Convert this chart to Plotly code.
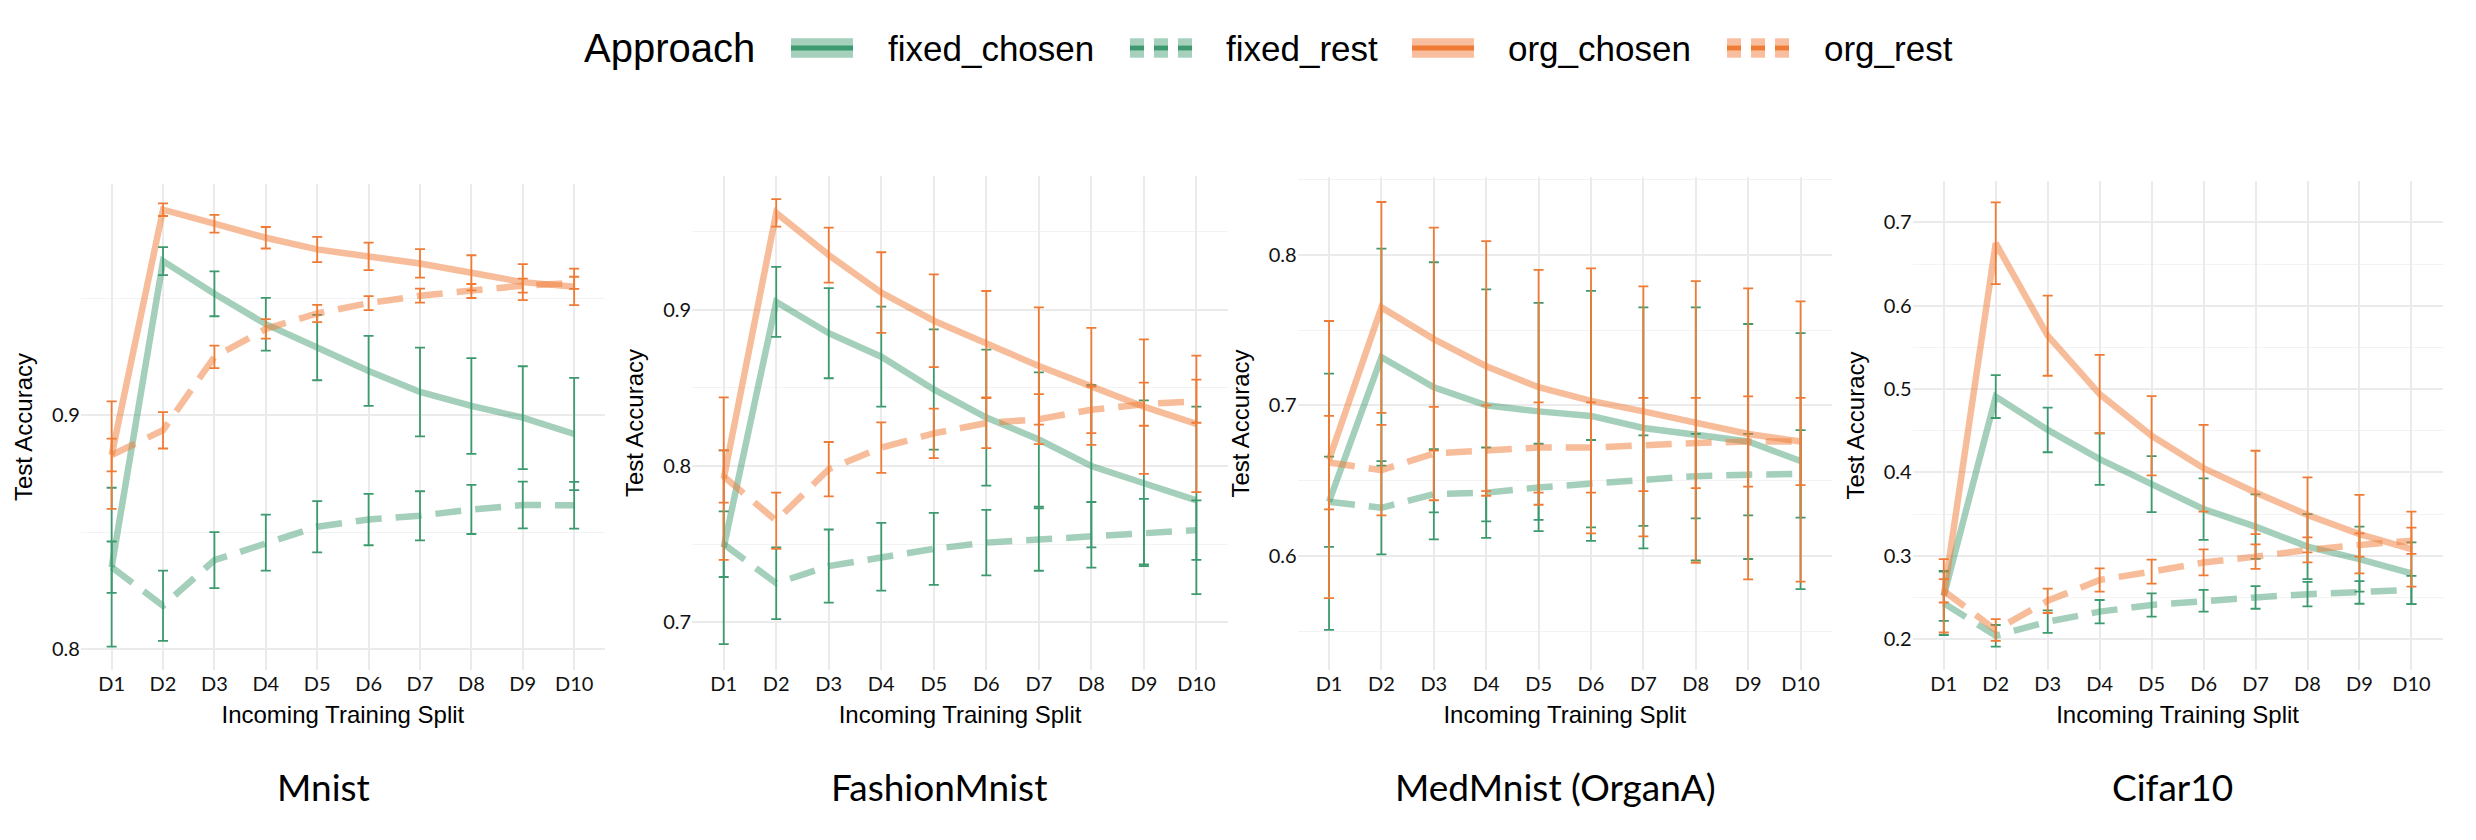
import plotly.graph_objects as go

W, H = 2476, 840

splits = ["D1", "D2", "D3", "D4", "D5", "D6", "D7", "D8", "D9", "D10"]
series_names = ["fixed_chosen", "fixed_rest", "org_chosen", "org_rest"]
panel_titles = ["Mnist", "FashionMnist", "MedMnist (OrganA)", "Cifar10"]

# ---- Mnist ----
mnist_fixed_chosen = [0.835, 0.966, 0.952, 0.939, 0.929, 0.919, 0.910, 0.904, 0.899, 0.892]
mnist_fixed_chosen_err = [0.034, 0.006, 0.0096, 0.0113, 0.014, 0.015, 0.019, 0.0205, 0.022, 0.024]
mnist_fixed_rest = [0.835, 0.8185, 0.838, 0.8455, 0.8523, 0.8554, 0.857, 0.8597, 0.8616, 0.8615]
mnist_fixed_rest_err = [0.011, 0.015, 0.012, 0.012, 0.011, 0.011, 0.0105, 0.0105, 0.010, 0.010]
mnist_org_chosen = [0.883, 0.988, 0.982, 0.976, 0.971, 0.968, 0.965, 0.961, 0.957, 0.955]
mnist_org_chosen_err = [0.023, 0.0027, 0.0038, 0.0046, 0.0054, 0.0059, 0.0061, 0.0075, 0.0077, 0.0078]
mnist_org_rest = [0.883, 0.8936, 0.925, 0.937, 0.9436, 0.948, 0.9512, 0.9532, 0.9555, 0.9567]
mnist_org_rest_err = [0.007, 0.0078, 0.0048, 0.0042, 0.0037, 0.003, 0.003, 0.003, 0.003, 0.0026]

# ---- FashionMnist ----
fm_fixed_chosen = [0.748, 0.905, 0.885, 0.870, 0.849, 0.831, 0.817, 0.800, 0.789, 0.778]
fm_fixed_chosen_err = [0.062, 0.0224, 0.0288, 0.032, 0.0385, 0.0435, 0.043, 0.052, 0.053, 0.060]
fm_fixed_rest = [0.750, 0.725, 0.736, 0.742, 0.747, 0.751, 0.753, 0.756, 0.758, 0.759]
fm_fixed_rest_err = [0.021, 0.023, 0.0234, 0.0217, 0.023, 0.021, 0.020, 0.021, 0.021, 0.019]
fm_org_chosen = [0.792, 0.962, 0.935, 0.911, 0.893, 0.878, 0.864, 0.851, 0.838, 0.827]
fm_org_chosen_err = [0.052, 0.0088, 0.0176, 0.0258, 0.0297, 0.034, 0.0375, 0.0374, 0.043, 0.0437]
fm_org_rest = [0.7933, 0.765, 0.798, 0.8118, 0.8209, 0.8275, 0.830, 0.836, 0.8396, 0.8415]
fm_org_rest_err = [0.0167, 0.018, 0.0174, 0.0162, 0.0158, 0.016, 0.016, 0.0149, 0.0138, 0.0138]

# ---- MedMnist (OrganA) ----
med_fixed_chosen = [0.636, 0.732, 0.712, 0.700, 0.696, 0.693, 0.685, 0.681, 0.676, 0.663]
med_fixed_chosen_err = [0.085, 0.072, 0.083, 0.077, 0.072, 0.083, 0.080, 0.084, 0.078, 0.085]
med_fixed_rest = [0.636, 0.632, 0.641, 0.642, 0.6455, 0.648, 0.650, 0.653, 0.654, 0.6545]
med_fixed_rest_err = [0.030, 0.031, 0.030, 0.030, 0.029, 0.029, 0.030, 0.028, 0.027, 0.029]
med_org_chosen = [0.664, 0.765, 0.744, 0.726, 0.712, 0.703, 0.696, 0.689, 0.681, 0.676]
med_org_chosen_err = [0.092, 0.070, 0.074, 0.083, 0.078, 0.088, 0.083, 0.0935, 0.0966, 0.093]
med_org_rest = [0.662, 0.657, 0.668, 0.670, 0.672, 0.672, 0.674, 0.675, 0.676, 0.676]
med_org_rest_err = [0.031, 0.030, 0.031, 0.030, 0.030, 0.030, 0.031, 0.030, 0.030, 0.029]

# ---- Cifar10 ----
cifar_fixed_chosen = [0.252, 0.491, 0.451, 0.416, 0.386, 0.356, 0.335, 0.311, 0.296, 0.279]
cifar_fixed_chosen_err = [0.030, 0.0257, 0.0268, 0.031, 0.0336, 0.0368, 0.0386, 0.039, 0.039, 0.037]
cifar_fixed_rest = [0.243, 0.204, 0.221, 0.233, 0.241, 0.246, 0.250, 0.254, 0.256, 0.259]
cifar_fixed_rest_err = [0.038, 0.013, 0.0135, 0.014, 0.014, 0.013, 0.0135, 0.0146, 0.0135, 0.017]
cifar_org_chosen = [0.252, 0.675, 0.564, 0.494, 0.444, 0.405, 0.376, 0.349, 0.326, 0.308]
cifar_org_chosen_err = [0.044, 0.049, 0.048, 0.047, 0.0475, 0.052, 0.050, 0.045, 0.047, 0.045]
cifar_org_rest = [0.258, 0.211, 0.246, 0.271, 0.281, 0.292, 0.299, 0.307, 0.313, 0.318]
cifar_org_rest_err = [0.014, 0.013, 0.0146, 0.014, 0.0144, 0.0156, 0.0146, 0.015, 0.014, 0.0157]

panel_data = [
    [(mnist_fixed_chosen, mnist_fixed_chosen_err), (mnist_fixed_rest, mnist_fixed_rest_err),
     (mnist_org_chosen, mnist_org_chosen_err), (mnist_org_rest, mnist_org_rest_err)],
    [(fm_fixed_chosen, fm_fixed_chosen_err), (fm_fixed_rest, fm_fixed_rest_err),
     (fm_org_chosen, fm_org_chosen_err), (fm_org_rest, fm_org_rest_err)],
    [(med_fixed_chosen, med_fixed_chosen_err), (med_fixed_rest, med_fixed_rest_err),
     (med_org_chosen, med_org_chosen_err), (med_org_rest, med_org_rest_err)],
    [(cifar_fixed_chosen, cifar_fixed_chosen_err), (cifar_fixed_rest, cifar_fixed_rest_err),
     (cifar_org_chosen, cifar_org_chosen_err), (cifar_org_rest, cifar_org_rest_err)],
]

y_ranges = [[0.791, 0.999], [0.6695, 0.9856], [0.5243, 0.8516], [0.163, 0.7496]]

# layout geometry in pixels
x_dom_px = [(72.8, 597.0), (684.2, 1219.9), (1289.6, 1824.0), (1904.6, 2434.6)]
y_top_px = [176, 168, 169, 173]
y_bot_px = 662
title_x_px = [315, 931, 1547, 2164]
title_y_px = 778

GREEN = "#3d9a6f"
ORANGE = "#ef7b35"
GREEN_LINE = "rgba(61,154,111,0.47)"
ORANGE_LINE = "rgba(239,123,53,0.5)"
GREEN_BAND = "#a5d0bc"
ORANGE_BAND = "#f8be9d"

styles = {
    "fixed_chosen": dict(line=GREEN_LINE, err=GREEN, dash="solid", band=GREEN_BAND),
    "fixed_rest": dict(line=GREEN_LINE, err=GREEN, dash="26px,14px", band=GREEN_BAND),
    "org_chosen": dict(line=ORANGE_LINE, err=ORANGE, dash="solid", band=ORANGE_BAND),
    "org_rest": dict(line=ORANGE_LINE, err=ORANGE, dash="26px,14px", band=ORANGE_BAND),
}

TICK_FONT = dict(family="Lato, Carlito, sans-serif", size=20, color="#111111")
AXT_FONT = dict(family="Liberation Sans, Arial, sans-serif", size=24, color="#000000")

fig = go.Figure()
for p, pdata in enumerate(panel_data):
    k = "" if p == 0 else str(p + 1)
    for name, (vals, errs) in zip(series_names, pdata):
        st = styles[name]
        fig.add_trace(go.Scatter(
            x=splits, y=vals, mode="lines", name=name, showlegend=False,
            xaxis="x" + k, yaxis="y" + k,
            line=dict(color=st["line"], width=6.5, dash=st["dash"]),
            error_y=dict(type="data", array=errs, visible=True, color=st["err"],
                         thickness=1.8, width=5),
        ))

layout = dict(
    width=W, height=H,
    margin=dict(l=0, r=0, t=0, b=0),
    paper_bgcolor="white", plot_bgcolor="white",
    showlegend=False,
)
for p in range(4):
    k = "" if p == 0 else str(p + 1)
    x0, x1 = x_dom_px[p]
    layout["xaxis" + k] = dict(
        domain=[x0 / W, x1 / W], anchor="y" + k, type="category",
        categoryorder="array", categoryarray=splits,
        range=[-0.6, 9.6], showgrid=True, gridcolor="#ebebeb", gridwidth=1.6,
        zeroline=False, showline=False, ticks="", tickfont=TICK_FONT,
        title=dict(text="Incoming Training Split", font=AXT_FONT, standoff=12),
    )
    layout["yaxis" + k] = dict(
        domain=[1 - y_bot_px / H, 1 - y_top_px[p] / H], anchor="x" + k,
        range=y_ranges[p], tick0=0, dtick=0.1, tickformat=".1f",
        showgrid=True, gridcolor="#ebebeb", gridwidth=1.6,
        minor=dict(tick0=0, dtick=0.05, showgrid=True, gridcolor="#f3f3f3", gridwidth=1.3),
        zeroline=False, showline=False, ticks="", tickfont=TICK_FONT,
        title=dict(text="Test Accuracy", font=AXT_FONT, standoff=12),
    )
fig.update_layout(**layout)

# panel titles
for p, t in enumerate(panel_titles):
    fig.add_annotation(text=t, x=title_x_px[p] / W, y=1 - title_y_px / H, xref="paper", yref="paper",
                       xanchor="center", yanchor="middle", showarrow=False,
                       font=dict(family="Lato, Carlito, sans-serif", size=37, color="#000000"))

# legend (drawn as a key row at the top)
LEG_Y = 40
fig.add_annotation(text="Approach", x=574 / W, y=1 - LEG_Y / H, xref="paper", yref="paper",
                   xanchor="left", yanchor="middle", showarrow=False,
                   font=dict(family="Liberation Sans, Arial, sans-serif", size=40, color="#000000"))
key_x = [783, 1122, 1404, 1719]
label_x = [878, 1216, 1498, 1814]
KEY_W = 62
for name, kx, lx in zip(series_names, key_x, label_x):
    st = styles[name]
    if st["dash"] == "solid":
        segs = [(0, KEY_W)]
    else:
        segs = [(0, 14), (24, 38), (48, KEY_W)]
    for a, b in segs:
        fig.add_shape(type="rect", xref="paper", yref="paper",
                      x0=(kx + a) / W, x1=(kx + b) / W,
                      y0=1 - (LEG_Y + 9.7) / H, y1=1 - (LEG_Y - 9.7) / H,
                      fillcolor=st["band"], line=dict(width=0), layer="above")
        fig.add_shape(type="rect", xref="paper", yref="paper",
                      x0=(kx + a) / W, x1=(kx + b) / W,
                      y0=1 - (LEG_Y + 2.4) / H, y1=1 - (LEG_Y - 2.4) / H,
                      fillcolor=st["err"], line=dict(width=0), layer="above")
    fig.add_annotation(text=name, x=lx / W, y=1 - LEG_Y / H, xref="paper", yref="paper",
                       xanchor="left", yanchor="middle", showarrow=False,
                       font=dict(family="Liberation Sans, Arial, sans-serif", size=35, color="#000000"))

fig.write_html("out.html")
